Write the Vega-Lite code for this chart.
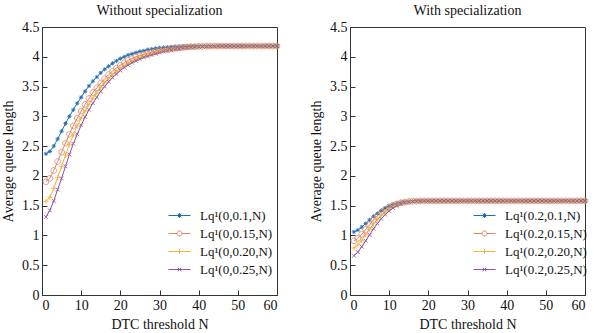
{
 "$schema": "https://vega.github.io/schema/vega-lite/v6.json",
 "padding": {"left": 1, "right": 5, "top": 3, "bottom": 0},
 "datasets": {
  "left": [
{"s":"0.1","N":1,"L":2.37},{"s":"0.1","N":2,"L":2.41},{"s":"0.1","N":3,"L":2.50},{"s":"0.1","N":4,"L":2.62},{"s":"0.1","N":5,"L":2.75},{"s":"0.1","N":6,"L":2.88},{"s":"0.1","N":7,"L":3.00},{"s":"0.1","N":8,"L":3.11},{"s":"0.1","N":9,"L":3.22},{"s":"0.1","N":10,"L":3.32},
{"s":"0.1","N":11,"L":3.42},{"s":"0.1","N":12,"L":3.51},{"s":"0.1","N":13,"L":3.59},{"s":"0.1","N":14,"L":3.66},{"s":"0.1","N":15,"L":3.73},{"s":"0.1","N":16,"L":3.79},{"s":"0.1","N":17,"L":3.84},{"s":"0.1","N":18,"L":3.89},{"s":"0.1","N":19,"L":3.93},{"s":"0.1","N":20,"L":3.97},
{"s":"0.1","N":21,"L":4.00},{"s":"0.1","N":22,"L":4.03},{"s":"0.1","N":23,"L":4.05},{"s":"0.1","N":24,"L":4.07},{"s":"0.1","N":25,"L":4.09},{"s":"0.1","N":26,"L":4.10},{"s":"0.1","N":27,"L":4.12},{"s":"0.1","N":28,"L":4.13},{"s":"0.1","N":29,"L":4.14},{"s":"0.1","N":30,"L":4.15},
{"s":"0.1","N":31,"L":4.155},{"s":"0.1","N":32,"L":4.16},{"s":"0.1","N":33,"L":4.165},{"s":"0.1","N":34,"L":4.17},{"s":"0.1","N":35,"L":4.17},{"s":"0.1","N":36,"L":4.175},{"s":"0.1","N":37,"L":4.175},{"s":"0.1","N":38,"L":4.18},{"s":"0.1","N":39,"L":4.18},{"s":"0.1","N":40,"L":4.18},
{"s":"0.1","N":41,"L":4.18},{"s":"0.1","N":42,"L":4.18},{"s":"0.1","N":43,"L":4.18},{"s":"0.1","N":44,"L":4.18},{"s":"0.1","N":45,"L":4.18},{"s":"0.1","N":46,"L":4.18},{"s":"0.1","N":47,"L":4.18},{"s":"0.1","N":48,"L":4.18},{"s":"0.1","N":49,"L":4.18},{"s":"0.1","N":50,"L":4.18},
{"s":"0.1","N":51,"L":4.18},{"s":"0.1","N":52,"L":4.18},{"s":"0.1","N":53,"L":4.18},{"s":"0.1","N":54,"L":4.18},{"s":"0.1","N":55,"L":4.18},{"s":"0.1","N":56,"L":4.18},{"s":"0.1","N":57,"L":4.18},{"s":"0.1","N":58,"L":4.18},{"s":"0.1","N":59,"L":4.18},{"s":"0.1","N":60,"L":4.18},
{"s":"0.15","N":1,"L":1.90},{"s":"0.15","N":2,"L":1.96},{"s":"0.15","N":3,"L":2.09},{"s":"0.15","N":4,"L":2.24},{"s":"0.15","N":5,"L":2.40},{"s":"0.15","N":6,"L":2.55},{"s":"0.15","N":7,"L":2.70},{"s":"0.15","N":8,"L":2.84},{"s":"0.15","N":9,"L":2.97},{"s":"0.15","N":10,"L":3.09},
{"s":"0.15","N":11,"L":3.20},{"s":"0.15","N":12,"L":3.30},{"s":"0.15","N":13,"L":3.40},{"s":"0.15","N":14,"L":3.48},{"s":"0.15","N":15,"L":3.56},{"s":"0.15","N":16,"L":3.63},{"s":"0.15","N":17,"L":3.70},{"s":"0.15","N":18,"L":3.76},{"s":"0.15","N":19,"L":3.81},{"s":"0.15","N":20,"L":3.86},
{"s":"0.15","N":21,"L":3.90},{"s":"0.15","N":22,"L":3.94},{"s":"0.15","N":23,"L":3.97},{"s":"0.15","N":24,"L":4.00},{"s":"0.15","N":25,"L":4.02},{"s":"0.15","N":26,"L":4.04},{"s":"0.15","N":27,"L":4.06},{"s":"0.15","N":28,"L":4.08},{"s":"0.15","N":29,"L":4.09},{"s":"0.15","N":30,"L":4.11},
{"s":"0.15","N":31,"L":4.12},{"s":"0.15","N":32,"L":4.13},{"s":"0.15","N":33,"L":4.14},{"s":"0.15","N":34,"L":4.15},{"s":"0.15","N":35,"L":4.155},{"s":"0.15","N":36,"L":4.16},{"s":"0.15","N":37,"L":4.165},{"s":"0.15","N":38,"L":4.17},{"s":"0.15","N":39,"L":4.17},{"s":"0.15","N":40,"L":4.175},
{"s":"0.15","N":41,"L":4.175},{"s":"0.15","N":42,"L":4.18},{"s":"0.15","N":43,"L":4.18},{"s":"0.15","N":44,"L":4.18},{"s":"0.15","N":45,"L":4.18},{"s":"0.15","N":46,"L":4.18},{"s":"0.15","N":47,"L":4.18},{"s":"0.15","N":48,"L":4.18},{"s":"0.15","N":49,"L":4.18},{"s":"0.15","N":50,"L":4.18},
{"s":"0.15","N":51,"L":4.18},{"s":"0.15","N":52,"L":4.18},{"s":"0.15","N":53,"L":4.18},{"s":"0.15","N":54,"L":4.18},{"s":"0.15","N":55,"L":4.18},{"s":"0.15","N":56,"L":4.18},{"s":"0.15","N":57,"L":4.18},{"s":"0.15","N":58,"L":4.18},{"s":"0.15","N":59,"L":4.18},{"s":"0.15","N":60,"L":4.18},
{"s":"0.20","N":1,"L":1.57},{"s":"0.20","N":2,"L":1.64},{"s":"0.20","N":3,"L":1.79},{"s":"0.20","N":4,"L":1.97},{"s":"0.20","N":5,"L":2.16},{"s":"0.20","N":6,"L":2.35},{"s":"0.20","N":7,"L":2.53},{"s":"0.20","N":8,"L":2.69},{"s":"0.20","N":9,"L":2.84},{"s":"0.20","N":10,"L":2.97},
{"s":"0.20","N":11,"L":3.09},{"s":"0.20","N":12,"L":3.20},{"s":"0.20","N":13,"L":3.30},{"s":"0.20","N":14,"L":3.39},{"s":"0.20","N":15,"L":3.48},{"s":"0.20","N":16,"L":3.56},{"s":"0.20","N":17,"L":3.63},{"s":"0.20","N":18,"L":3.69},{"s":"0.20","N":19,"L":3.75},{"s":"0.20","N":20,"L":3.80},
{"s":"0.20","N":21,"L":3.85},{"s":"0.20","N":22,"L":3.89},{"s":"0.20","N":23,"L":3.93},{"s":"0.20","N":24,"L":3.96},{"s":"0.20","N":25,"L":3.99},{"s":"0.20","N":26,"L":4.01},{"s":"0.20","N":27,"L":4.03},{"s":"0.20","N":28,"L":4.05},{"s":"0.20","N":29,"L":4.07},{"s":"0.20","N":30,"L":4.09},
{"s":"0.20","N":31,"L":4.10},{"s":"0.20","N":32,"L":4.11},{"s":"0.20","N":33,"L":4.12},{"s":"0.20","N":34,"L":4.13},{"s":"0.20","N":35,"L":4.14},{"s":"0.20","N":36,"L":4.15},{"s":"0.20","N":37,"L":4.155},{"s":"0.20","N":38,"L":4.16},{"s":"0.20","N":39,"L":4.165},{"s":"0.20","N":40,"L":4.17},
{"s":"0.20","N":41,"L":4.17},{"s":"0.20","N":42,"L":4.175},{"s":"0.20","N":43,"L":4.175},{"s":"0.20","N":44,"L":4.18},{"s":"0.20","N":45,"L":4.18},{"s":"0.20","N":46,"L":4.18},{"s":"0.20","N":47,"L":4.18},{"s":"0.20","N":48,"L":4.18},{"s":"0.20","N":49,"L":4.18},{"s":"0.20","N":50,"L":4.18},
{"s":"0.20","N":51,"L":4.18},{"s":"0.20","N":52,"L":4.18},{"s":"0.20","N":53,"L":4.18},{"s":"0.20","N":54,"L":4.18},{"s":"0.20","N":55,"L":4.18},{"s":"0.20","N":56,"L":4.18},{"s":"0.20","N":57,"L":4.18},{"s":"0.20","N":58,"L":4.18},{"s":"0.20","N":59,"L":4.18},{"s":"0.20","N":60,"L":4.18},
{"s":"0.25","N":1,"L":1.31},{"s":"0.25","N":2,"L":1.42},{"s":"0.25","N":3,"L":1.58},{"s":"0.25","N":4,"L":1.77},{"s":"0.25","N":5,"L":1.96},{"s":"0.25","N":6,"L":2.16},{"s":"0.25","N":7,"L":2.36},{"s":"0.25","N":8,"L":2.54},{"s":"0.25","N":9,"L":2.70},{"s":"0.25","N":10,"L":2.85},
{"s":"0.25","N":11,"L":2.99},{"s":"0.25","N":12,"L":3.11},{"s":"0.25","N":13,"L":3.22},{"s":"0.25","N":14,"L":3.32},{"s":"0.25","N":15,"L":3.42},{"s":"0.25","N":16,"L":3.50},{"s":"0.25","N":17,"L":3.58},{"s":"0.25","N":18,"L":3.65},{"s":"0.25","N":19,"L":3.71},{"s":"0.25","N":20,"L":3.77},
{"s":"0.25","N":21,"L":3.82},{"s":"0.25","N":22,"L":3.86},{"s":"0.25","N":23,"L":3.90},{"s":"0.25","N":24,"L":3.93},{"s":"0.25","N":25,"L":3.96},{"s":"0.25","N":26,"L":3.99},{"s":"0.25","N":27,"L":4.01},{"s":"0.25","N":28,"L":4.03},{"s":"0.25","N":29,"L":4.05},{"s":"0.25","N":30,"L":4.07},
{"s":"0.25","N":31,"L":4.09},{"s":"0.25","N":32,"L":4.10},{"s":"0.25","N":33,"L":4.11},{"s":"0.25","N":34,"L":4.12},{"s":"0.25","N":35,"L":4.13},{"s":"0.25","N":36,"L":4.14},{"s":"0.25","N":37,"L":4.15},{"s":"0.25","N":38,"L":4.155},{"s":"0.25","N":39,"L":4.16},{"s":"0.25","N":40,"L":4.165},
{"s":"0.25","N":41,"L":4.17},{"s":"0.25","N":42,"L":4.17},{"s":"0.25","N":43,"L":4.175},{"s":"0.25","N":44,"L":4.175},{"s":"0.25","N":45,"L":4.18},{"s":"0.25","N":46,"L":4.18},{"s":"0.25","N":47,"L":4.18},{"s":"0.25","N":48,"L":4.18},{"s":"0.25","N":49,"L":4.18},{"s":"0.25","N":50,"L":4.18},
{"s":"0.25","N":51,"L":4.18},{"s":"0.25","N":52,"L":4.18},{"s":"0.25","N":53,"L":4.18},{"s":"0.25","N":54,"L":4.18},{"s":"0.25","N":55,"L":4.18},{"s":"0.25","N":56,"L":4.18},{"s":"0.25","N":57,"L":4.18},{"s":"0.25","N":58,"L":4.18},{"s":"0.25","N":59,"L":4.18},{"s":"0.25","N":60,"L":4.18}
  ],
  "right": [
{"s":"0.1","N":1,"L":1.06},{"s":"0.1","N":2,"L":1.09},{"s":"0.1","N":3,"L":1.14},{"s":"0.1","N":4,"L":1.20},{"s":"0.1","N":5,"L":1.26},{"s":"0.1","N":6,"L":1.32},{"s":"0.1","N":7,"L":1.37},{"s":"0.1","N":8,"L":1.42},{"s":"0.1","N":9,"L":1.46},{"s":"0.1","N":10,"L":1.49},
{"s":"0.1","N":11,"L":1.52},{"s":"0.1","N":12,"L":1.54},{"s":"0.1","N":13,"L":1.555},{"s":"0.1","N":14,"L":1.565},{"s":"0.1","N":15,"L":1.57},{"s":"0.1","N":16,"L":1.575},{"s":"0.1","N":17,"L":1.58},{"s":"0.1","N":18,"L":1.58},{"s":"0.1","N":19,"L":1.58},{"s":"0.1","N":20,"L":1.58},
{"s":"0.1","N":21,"L":1.58},{"s":"0.1","N":22,"L":1.58},{"s":"0.1","N":23,"L":1.58},{"s":"0.1","N":24,"L":1.58},{"s":"0.1","N":25,"L":1.58},{"s":"0.1","N":26,"L":1.58},{"s":"0.1","N":27,"L":1.58},{"s":"0.1","N":28,"L":1.58},{"s":"0.1","N":29,"L":1.58},{"s":"0.1","N":30,"L":1.58},
{"s":"0.1","N":31,"L":1.58},{"s":"0.1","N":32,"L":1.58},{"s":"0.1","N":33,"L":1.58},{"s":"0.1","N":34,"L":1.58},{"s":"0.1","N":35,"L":1.58},{"s":"0.1","N":36,"L":1.58},{"s":"0.1","N":37,"L":1.58},{"s":"0.1","N":38,"L":1.58},{"s":"0.1","N":39,"L":1.58},{"s":"0.1","N":40,"L":1.58},
{"s":"0.1","N":41,"L":1.58},{"s":"0.1","N":42,"L":1.58},{"s":"0.1","N":43,"L":1.58},{"s":"0.1","N":44,"L":1.58},{"s":"0.1","N":45,"L":1.58},{"s":"0.1","N":46,"L":1.58},{"s":"0.1","N":47,"L":1.58},{"s":"0.1","N":48,"L":1.58},{"s":"0.1","N":49,"L":1.58},{"s":"0.1","N":50,"L":1.58},
{"s":"0.1","N":51,"L":1.58},{"s":"0.1","N":52,"L":1.58},{"s":"0.1","N":53,"L":1.58},{"s":"0.1","N":54,"L":1.58},{"s":"0.1","N":55,"L":1.58},{"s":"0.1","N":56,"L":1.58},{"s":"0.1","N":57,"L":1.58},{"s":"0.1","N":58,"L":1.58},{"s":"0.1","N":59,"L":1.58},{"s":"0.1","N":60,"L":1.58},
{"s":"0.15","N":1,"L":0.91},{"s":"0.15","N":2,"L":0.95},{"s":"0.15","N":3,"L":1.02},{"s":"0.15","N":4,"L":1.10},{"s":"0.15","N":5,"L":1.18},{"s":"0.15","N":6,"L":1.26},{"s":"0.15","N":7,"L":1.33},{"s":"0.15","N":8,"L":1.39},{"s":"0.15","N":9,"L":1.44},{"s":"0.15","N":10,"L":1.48},
{"s":"0.15","N":11,"L":1.51},{"s":"0.15","N":12,"L":1.53},{"s":"0.15","N":13,"L":1.55},{"s":"0.15","N":14,"L":1.56},{"s":"0.15","N":15,"L":1.57},{"s":"0.15","N":16,"L":1.575},{"s":"0.15","N":17,"L":1.575},{"s":"0.15","N":18,"L":1.58},{"s":"0.15","N":19,"L":1.58},{"s":"0.15","N":20,"L":1.58},
{"s":"0.15","N":21,"L":1.58},{"s":"0.15","N":22,"L":1.58},{"s":"0.15","N":23,"L":1.58},{"s":"0.15","N":24,"L":1.58},{"s":"0.15","N":25,"L":1.58},{"s":"0.15","N":26,"L":1.58},{"s":"0.15","N":27,"L":1.58},{"s":"0.15","N":28,"L":1.58},{"s":"0.15","N":29,"L":1.58},{"s":"0.15","N":30,"L":1.58},
{"s":"0.15","N":31,"L":1.58},{"s":"0.15","N":32,"L":1.58},{"s":"0.15","N":33,"L":1.58},{"s":"0.15","N":34,"L":1.58},{"s":"0.15","N":35,"L":1.58},{"s":"0.15","N":36,"L":1.58},{"s":"0.15","N":37,"L":1.58},{"s":"0.15","N":38,"L":1.58},{"s":"0.15","N":39,"L":1.58},{"s":"0.15","N":40,"L":1.58},
{"s":"0.15","N":41,"L":1.58},{"s":"0.15","N":42,"L":1.58},{"s":"0.15","N":43,"L":1.58},{"s":"0.15","N":44,"L":1.58},{"s":"0.15","N":45,"L":1.58},{"s":"0.15","N":46,"L":1.58},{"s":"0.15","N":47,"L":1.58},{"s":"0.15","N":48,"L":1.58},{"s":"0.15","N":49,"L":1.58},{"s":"0.15","N":50,"L":1.58},
{"s":"0.15","N":51,"L":1.58},{"s":"0.15","N":52,"L":1.58},{"s":"0.15","N":53,"L":1.58},{"s":"0.15","N":54,"L":1.58},{"s":"0.15","N":55,"L":1.58},{"s":"0.15","N":56,"L":1.58},{"s":"0.15","N":57,"L":1.58},{"s":"0.15","N":58,"L":1.58},{"s":"0.15","N":59,"L":1.58},{"s":"0.15","N":60,"L":1.58},
{"s":"0.20","N":1,"L":0.79},{"s":"0.20","N":2,"L":0.84},{"s":"0.20","N":3,"L":0.92},{"s":"0.20","N":4,"L":1.01},{"s":"0.20","N":5,"L":1.10},{"s":"0.20","N":6,"L":1.19},{"s":"0.20","N":7,"L":1.27},{"s":"0.20","N":8,"L":1.34},{"s":"0.20","N":9,"L":1.40},{"s":"0.20","N":10,"L":1.45},
{"s":"0.20","N":11,"L":1.49},{"s":"0.20","N":12,"L":1.52},{"s":"0.20","N":13,"L":1.54},{"s":"0.20","N":14,"L":1.555},{"s":"0.20","N":15,"L":1.565},{"s":"0.20","N":16,"L":1.57},{"s":"0.20","N":17,"L":1.575},{"s":"0.20","N":18,"L":1.575},{"s":"0.20","N":19,"L":1.58},{"s":"0.20","N":20,"L":1.58},
{"s":"0.20","N":21,"L":1.58},{"s":"0.20","N":22,"L":1.58},{"s":"0.20","N":23,"L":1.58},{"s":"0.20","N":24,"L":1.58},{"s":"0.20","N":25,"L":1.58},{"s":"0.20","N":26,"L":1.58},{"s":"0.20","N":27,"L":1.58},{"s":"0.20","N":28,"L":1.58},{"s":"0.20","N":29,"L":1.58},{"s":"0.20","N":30,"L":1.58},
{"s":"0.20","N":31,"L":1.58},{"s":"0.20","N":32,"L":1.58},{"s":"0.20","N":33,"L":1.58},{"s":"0.20","N":34,"L":1.58},{"s":"0.20","N":35,"L":1.58},{"s":"0.20","N":36,"L":1.58},{"s":"0.20","N":37,"L":1.58},{"s":"0.20","N":38,"L":1.58},{"s":"0.20","N":39,"L":1.58},{"s":"0.20","N":40,"L":1.58},
{"s":"0.20","N":41,"L":1.58},{"s":"0.20","N":42,"L":1.58},{"s":"0.20","N":43,"L":1.58},{"s":"0.20","N":44,"L":1.58},{"s":"0.20","N":45,"L":1.58},{"s":"0.20","N":46,"L":1.58},{"s":"0.20","N":47,"L":1.58},{"s":"0.20","N":48,"L":1.58},{"s":"0.20","N":49,"L":1.58},{"s":"0.20","N":50,"L":1.58},
{"s":"0.20","N":51,"L":1.58},{"s":"0.20","N":52,"L":1.58},{"s":"0.20","N":53,"L":1.58},{"s":"0.20","N":54,"L":1.58},{"s":"0.20","N":55,"L":1.58},{"s":"0.20","N":56,"L":1.58},{"s":"0.20","N":57,"L":1.58},{"s":"0.20","N":58,"L":1.58},{"s":"0.20","N":59,"L":1.58},{"s":"0.20","N":60,"L":1.58},
{"s":"0.25","N":1,"L":0.66},{"s":"0.25","N":2,"L":0.72},{"s":"0.25","N":3,"L":0.81},{"s":"0.25","N":4,"L":0.91},{"s":"0.25","N":5,"L":1.01},{"s":"0.25","N":6,"L":1.11},{"s":"0.25","N":7,"L":1.20},{"s":"0.25","N":8,"L":1.28},{"s":"0.25","N":9,"L":1.35},{"s":"0.25","N":10,"L":1.41},
{"s":"0.25","N":11,"L":1.46},{"s":"0.25","N":12,"L":1.50},{"s":"0.25","N":13,"L":1.53},{"s":"0.25","N":14,"L":1.55},{"s":"0.25","N":15,"L":1.56},{"s":"0.25","N":16,"L":1.57},{"s":"0.25","N":17,"L":1.575},{"s":"0.25","N":18,"L":1.575},{"s":"0.25","N":19,"L":1.58},{"s":"0.25","N":20,"L":1.58},
{"s":"0.25","N":21,"L":1.58},{"s":"0.25","N":22,"L":1.58},{"s":"0.25","N":23,"L":1.58},{"s":"0.25","N":24,"L":1.58},{"s":"0.25","N":25,"L":1.58},{"s":"0.25","N":26,"L":1.58},{"s":"0.25","N":27,"L":1.58},{"s":"0.25","N":28,"L":1.58},{"s":"0.25","N":29,"L":1.58},{"s":"0.25","N":30,"L":1.58},
{"s":"0.25","N":31,"L":1.58},{"s":"0.25","N":32,"L":1.58},{"s":"0.25","N":33,"L":1.58},{"s":"0.25","N":34,"L":1.58},{"s":"0.25","N":35,"L":1.58},{"s":"0.25","N":36,"L":1.58},{"s":"0.25","N":37,"L":1.58},{"s":"0.25","N":38,"L":1.58},{"s":"0.25","N":39,"L":1.58},{"s":"0.25","N":40,"L":1.58},
{"s":"0.25","N":41,"L":1.58},{"s":"0.25","N":42,"L":1.58},{"s":"0.25","N":43,"L":1.58},{"s":"0.25","N":44,"L":1.58},{"s":"0.25","N":45,"L":1.58},{"s":"0.25","N":46,"L":1.58},{"s":"0.25","N":47,"L":1.58},{"s":"0.25","N":48,"L":1.58},{"s":"0.25","N":49,"L":1.58},{"s":"0.25","N":50,"L":1.58},
{"s":"0.25","N":51,"L":1.58},{"s":"0.25","N":52,"L":1.58},{"s":"0.25","N":53,"L":1.58},{"s":"0.25","N":54,"L":1.58},{"s":"0.25","N":55,"L":1.58},{"s":"0.25","N":56,"L":1.58},{"s":"0.25","N":57,"L":1.58},{"s":"0.25","N":58,"L":1.58},{"s":"0.25","N":59,"L":1.58},{"s":"0.25","N":60,"L":1.58}
  ]
 },
 "hconcat": [
  {
   "title": "Without specialization",
   "width": 235, "height": 268,
   "data": {"name": "left"},
   "encoding": {
    "x": {"field": "N", "type": "quantitative", "scale": {"domain": [0, 60], "nice": false}, "axis": {"values": [0,10,20,30,40,50,60], "title": "DTC threshold N"}},
    "y": {"field": "L", "type": "quantitative", "scale": {"domain": [0, 4.5], "nice": false}, "axis": {"values": [0,0.5,1,1.5,2,2.5,3,3.5,4,4.5], "format": "~g", "title": "Average queue length"}}
   },
   "layer": [
    {
     "mark": {"type": "line", "strokeWidth": 1},
     "encoding": {
      "color": {"field": "s", "type": "nominal",
       "scale": {"domain": ["0.1","0.15","0.20","0.25"], "range": ["#1f6fb4","#e0836a","#eeb23a","#8c50a8"]},
       "legend": {"title": null, "orient": "none", "legendX": 131, "legendY": 182, "labelExpr": "'Lq¹(0,' + datum.label + ',N)'",
        "encode": {"symbols": {"update": {"fill": {"value": "transparent"}, "opacity": {"value": 1},
         "stroke": {"signal": "datum.value == '0.1' ? '#1f6fb4' : datum.value == '0.15' ? '#e0836a' : datum.value == '0.20' ? '#eeb23a' : '#8c50a8'"},
         "shape": {"signal": "datum.value == '0.1' ? 'M-2.2,0H2.2M-0.5,0H0.5M0,-0.5V0.5M-0.35,-0.35L0.35,0.35M-0.35,0.35L0.35,-0.35' : datum.value == '0.15' ? 'M-2.2,0H-0.5M0.5,0H2.2M-0.5,0A0.5,0.5,0,1,1,0.5,0A0.5,0.5,0,1,1,-0.5,0' : datum.value == '0.20' ? 'M-2.2,0H2.2M0,-0.5V0.5' : 'M-2.2,0H2.2M-0.35,-0.35L0.35,0.35M-0.35,0.35L0.35,-0.35'"}}}}}
      }
     }
    },
    {"transform": [{"filter": "datum.s == '0.1'"}], "mark": {"type": "point", "shape": "M-1,0H1M0,-1V1M-0.7,-0.7L0.7,0.7M-0.7,0.7L0.7,-0.7", "filled": false, "size": 18, "strokeWidth": 0.9, "opacity": 1}, "encoding": {"color": {"field": "s", "type": "nominal", "legend": null}}},
    {"transform": [{"filter": "datum.s == '0.15'"}], "mark": {"type": "point", "shape": "M-1.35,0A1.35,1.35,0,1,1,1.35,0A1.35,1.35,0,1,1,-1.35,0Z", "filled": false, "size": 18, "strokeWidth": 0.8, "opacity": 1}, "encoding": {"color": {"field": "s", "type": "nominal", "legend": null}}},
    {"transform": [{"filter": "datum.s == '0.20'"}], "mark": {"type": "point", "shape": "M-1.3,0H1.3M0,-1.3V1.3", "filled": false, "size": 18, "strokeWidth": 0.8, "opacity": 1}, "encoding": {"color": {"field": "s", "type": "nominal", "legend": null}}},
    {"transform": [{"filter": "datum.s == '0.25'"}], "mark": {"type": "point", "shape": "M-0.9,-0.9L0.9,0.9M-0.9,0.9L0.9,-0.9", "filled": false, "size": 18, "strokeWidth": 0.8, "opacity": 1}, "encoding": {"color": {"field": "s", "type": "nominal", "legend": null}}}
   ]
  },
  {
   "title": "With specialization",
   "width": 235, "height": 268,
   "data": {"name": "right"},
   "encoding": {
    "x": {"field": "N", "type": "quantitative", "scale": {"domain": [0, 60], "nice": false}, "axis": {"values": [0,10,20,30,40,50,60], "title": "DTC threshold N"}},
    "y": {"field": "L", "type": "quantitative", "scale": {"domain": [0, 4.5], "nice": false}, "axis": {"values": [0,0.5,1,1.5,2,2.5,3,3.5,4,4.5], "format": "~g", "title": "Average queue length"}}
   },
   "layer": [
    {
     "mark": {"type": "line", "strokeWidth": 1},
     "encoding": {
      "color": {"field": "s", "type": "nominal",
       "scale": {"domain": ["0.1","0.15","0.20","0.25"], "range": ["#1f6fb4","#e0836a","#eeb23a","#8c50a8"]},
       "legend": {"title": null, "orient": "none", "legendX": 128, "legendY": 182, "labelExpr": "'Lq¹(0.2,' + datum.label + ',N)'",
        "encode": {"symbols": {"update": {"fill": {"value": "transparent"}, "opacity": {"value": 1},
         "stroke": {"signal": "datum.value == '0.1' ? '#1f6fb4' : datum.value == '0.15' ? '#e0836a' : datum.value == '0.20' ? '#eeb23a' : '#8c50a8'"},
         "shape": {"signal": "datum.value == '0.1' ? 'M-2.2,0H2.2M-0.5,0H0.5M0,-0.5V0.5M-0.35,-0.35L0.35,0.35M-0.35,0.35L0.35,-0.35' : datum.value == '0.15' ? 'M-2.2,0H-0.5M0.5,0H2.2M-0.5,0A0.5,0.5,0,1,1,0.5,0A0.5,0.5,0,1,1,-0.5,0' : datum.value == '0.20' ? 'M-2.2,0H2.2M0,-0.5V0.5' : 'M-2.2,0H2.2M-0.35,-0.35L0.35,0.35M-0.35,0.35L0.35,-0.35'"}}}}}
      }
     }
    },
    {"transform": [{"filter": "datum.s == '0.1'"}], "mark": {"type": "point", "shape": "M-1,0H1M0,-1V1M-0.7,-0.7L0.7,0.7M-0.7,0.7L0.7,-0.7", "filled": false, "size": 18, "strokeWidth": 0.9, "opacity": 1}, "encoding": {"color": {"field": "s", "type": "nominal", "legend": null}}},
    {"transform": [{"filter": "datum.s == '0.15'"}], "mark": {"type": "point", "shape": "M-1.35,0A1.35,1.35,0,1,1,1.35,0A1.35,1.35,0,1,1,-1.35,0Z", "filled": false, "size": 18, "strokeWidth": 0.8, "opacity": 1}, "encoding": {"color": {"field": "s", "type": "nominal", "legend": null}}},
    {"transform": [{"filter": "datum.s == '0.20'"}], "mark": {"type": "point", "shape": "M-1.3,0H1.3M0,-1.3V1.3", "filled": false, "size": 18, "strokeWidth": 0.8, "opacity": 1}, "encoding": {"color": {"field": "s", "type": "nominal", "legend": null}}},
    {"transform": [{"filter": "datum.s == '0.25'"}], "mark": {"type": "point", "shape": "M-0.9,-0.9L0.9,0.9M-0.9,0.9L0.9,-0.9", "filled": false, "size": 18, "strokeWidth": 0.8, "opacity": 1}, "encoding": {"color": {"field": "s", "type": "nominal", "legend": null}}}
   ]
  }
 ],
 "spacing": 27,
 "resolve": {"scale": {"color": "independent"}, "legend": {"color": "independent"}},
 "config": {
  "font": "Liberation Serif",
  "view": {"stroke": "#333", "strokeWidth": 1},
  "title": {"font": "Liberation Serif", "fontSize": 14, "fontWeight": "normal", "offset": 2, "color": "#111"},
  "axis": {"labelFont": "Liberation Serif", "labelFontSize": 14, "labelColor": "#111", "titleFont": "Liberation Serif", "titleFontSize": 14, "titleFontWeight": "normal", "titleColor": "#111", "grid": false, "domainColor": "#333", "tickColor": "#333", "tickSize": -5, "labelPadding": 8, "titlePadding": 6},
  "axisX": {"titlePadding": 5},
  "legend": {"labelFont": "Liberation Serif", "labelFontSize": 13, "labelColor": "#111", "symbolSize": 100, "symbolStrokeWidth": 1, "rowPadding": 4, "padding": 0, "labelOffset": 14}
 }
}
